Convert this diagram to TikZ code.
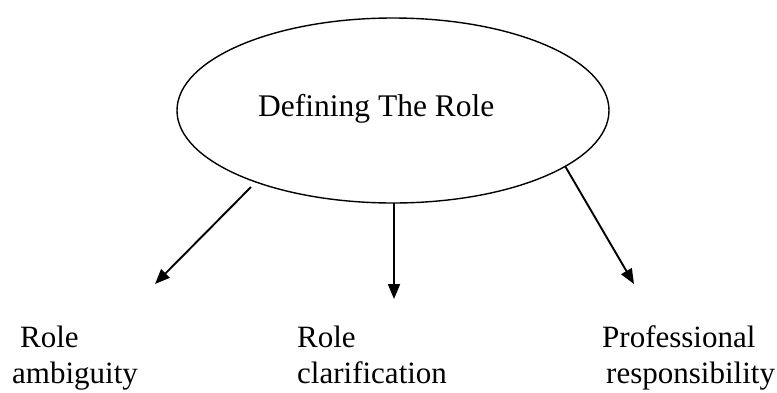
\documentclass[tikz,border=0pt]{standalone}
\usepackage{fontspec}
\setmainfont{Liberation Serif}
\usetikzlibrary{shapes.geometric,arrows.meta}
\begin{document}
\begin{tikzpicture}[x=1pt,y=-1pt,
  bubble/.style={draw,ellipse,line width=1.4pt,minimum width=432pt,minimum height=185pt,inner sep=0pt},
  word/.style={anchor=base west,inner sep=0pt,font=\fontsize{31}{37}\selectfont},
  heading/.style={anchor=base west,inner sep=0pt,font=\fontsize{31.5}{38}\selectfont},
  arr/.style={line width=1.9pt,-{Triangle[length=15pt,width=12pt]}}]
  \useasboundingbox (0,0) rectangle (777,392);

  % central ellipse and its caption
  \node[bubble] (main) at (393,110.5) {};
  \node[heading] (title) at (258,116) {Defining The Role};

  % three outcome labels
  \node[word] (l1a) at (20,347) {Role};
  \node[word] (l1b) at (12,383) {ambiguity};
  \node[word] (l2a) at (297,347) {Role};
  \node[word] (l2b) at (297,383) {clarification};
  \node[word] (l3a) at (602,347) {Professional};
  \node[word] (l3b) at (606,383) {responsibility};

  % arrow ends
  \coordinate (s1) at (251,187);
  \coordinate (t1) at (155,284);
  \coordinate (s2) at (394,203);
  \coordinate (t2) at (394,299);
  \coordinate (s3) at (565,166);
  \coordinate (t3) at (634,284);

  \draw[arr] (s1) -- (t1);
  \draw[arr] (s2) -- (t2);
  \draw[arr] (s3) -- (t3);
\end{tikzpicture}
\end{document}
